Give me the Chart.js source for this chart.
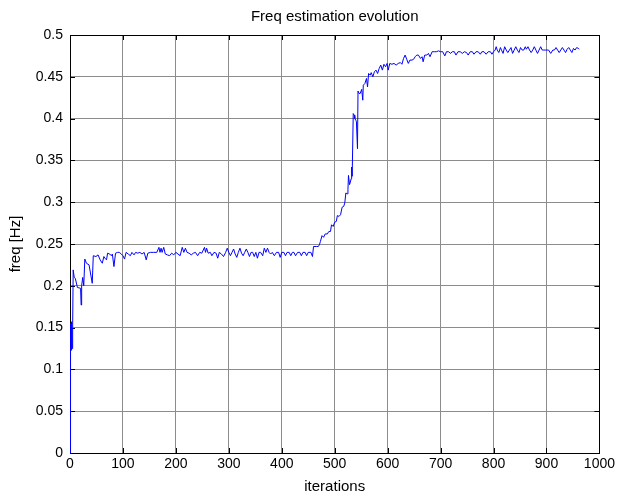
<!DOCTYPE html>
<html><head><meta charset="utf-8">
<script src="https://cdn.jsdelivr.net/npm/chart.js@4"></script>
<style>html,body{margin:0;padding:0;background:#fff;}</style>
</head><body>
<canvas id="c" width="618" height="497"></canvas>
<script>
const iterations = [0,1,2,3,4,5,6,8,10,14,20,21,22,24,26,28,31,36,42,44,49,53,57,61,64,66,69,71,75,78,80,83,86,90,93,97,
100,103,106,110,114,117,121,124,128,132,136,140,144,147,152,158,164,168,170,172,174,177,180,184,188,192,196,
200,204,208,212,215,218,221,225,229,233,237,241,245,249,254,256,258,261,265,268,272,276,279,282,286,290,294,297,
300,303,306,309,312,315,318,321,324,327,330,333,336,339,342,345,348,351,354,357,360,364,367,370,373,376,379,382,386,390,394,397,
400,404,407,410,414,417,420,423,426,430,434,437,440,444,447,450,455,458,460,466,469,471,473,476,479,482,486,489,492,494,497,
500,503,505,508,511,514,517,519,521,524,525,526,528,529,531,532,533,535,537,538,540,541,543,544,546,548,551,553,554,557,560,562,564,567,569,572,575,578,581,584,587,590,593,596,599,
601,604,608,612,616,620,624,627,630,633,636,639,642,646,649,652,655,658,662,665,667,670,674,677,680,684,688,692,696,
700,704,708,711,715,719,722,726,729,733,737,741,745,749,752,756,760,763,767,771,775,778,782,786,790,794,797,
800,803,805,807,810,813,815,818,821,824,827,830,833,836,839,842,845,848,851,854,857,860,862,865,868,871,874,877,880,883,886,889,892,895,898,
901,904,908,912,915,918,921,924,927,930,933,936,939,942,945,948,951,954,957,960,962];
const freq = [0,0.155,0.123,0.157,0.125,0.15,0.219,0.21,0.209,0.198,0.197,0.177,0.2,0.21,0.2,0.232,0.227,0.225,0.203,0.236,0.235,0.237,0.231,0.227,0.235,0.233,0.231,0.239,0.238,0.236,0.238,0.223,0.239,0.24,0.24,0.238,
0.236,0.232,0.24,0.238,0.236,0.24,0.237,0.24,0.239,0.24,0.238,0.24,0.231,0.239,0.24,0.24,0.24,0.246,0.24,0.245,0.24,0.246,0.238,0.237,0.236,0.239,0.237,
0.24,0.238,0.236,0.246,0.24,0.245,0.24,0.239,0.237,0.239,0.24,0.236,0.24,0.239,0.246,0.24,0.245,0.239,0.24,0.236,0.24,0.239,0.233,0.24,0.238,0.235,0.24,0.245,
0.24,0.236,0.24,0.244,0.238,0.234,0.24,0.245,0.239,0.236,0.24,0.244,0.24,0.235,0.24,0.24,0.235,0.24,0.233,0.24,0.24,0.236,0.245,0.24,0.245,0.24,0.238,0.24,0.236,0.24,0.24,0.234,
0.24,0.24,0.236,0.24,0.24,0.236,0.24,0.24,0.236,0.24,0.24,0.236,0.24,0.24,0.236,0.24,0.24,0.235,0.247,0.247,0.247,0.249,0.253,0.26,0.258,0.262,0.262,0.265,0.265,0.273,0.271,
0.276,0.277,0.284,0.283,0.285,0.294,0.295,0.299,0.311,0.31,0.315,0.332,0.321,0.323,0.328,0.342,0.331,0.406,0.404,0.4,0.398,0.396,0.364,0.433,0.43,0.43,0.435,0.422,0.44,0.442,0.448,0.438,0.454,0.452,0.455,0.45,0.456,0.458,0.454,0.46,0.464,0.458,0.465,0.462,0.466,
0.458,0.466,0.465,0.466,0.464,0.466,0.467,0.465,0.472,0.476,0.471,0.466,0.47,0.47,0.471,0.474,0.476,0.476,0.472,0.474,0.468,0.476,0.476,0.478,0.474,0.48,0.48,0.48,0.481,
0.48,0.48,0.475,0.48,0.48,0.478,0.48,0.48,0.476,0.48,0.48,0.478,0.48,0.479,0.476,0.48,0.48,0.477,0.48,0.48,0.477,0.48,0.48,0.477,0.48,0.48,0.477,
0.48,0.482,0.486,0.482,0.479,0.485,0.482,0.478,0.486,0.482,0.479,0.482,0.485,0.478,0.482,0.486,0.482,0.479,0.485,0.482,0.482,0.486,0.483,0.486,0.482,0.479,0.482,0.486,0.482,0.478,0.482,0.486,0.482,0.482,0.482,
0.482,0.482,0.478,0.482,0.482,0.485,0.482,0.479,0.482,0.485,0.482,0.479,0.483,0.485,0.482,0.479,0.484,0.482,0.485,0.484,0.483];
const xTickValues = [0,100,200,300,400,500,600,700,800,900,1000];
const yTickValues = [0,0.05,0.1,0.15,0.2,0.25,0.3,0.35,0.4,0.45,0.5];
const titleText = 'Freq estimation evolution';
const xLabel = 'iterations';
const yLabel = 'freq [Hz]';

const FONT = 'Arial, "Liberation Sans", sans-serif';
const frame = {
  id: 'frame',
  beforeDatasetsDraw(chart) {
    const {ctx, chartArea: a, scales: {x, y}} = chart;
    ctx.save();
    ctx.strokeStyle = '#000';
    ctx.lineWidth = 1;
    ctx.beginPath();
    xTickValues.forEach(v => {
      const px = Math.round(x.getPixelForValue(v)) + 0.5;
      ctx.moveTo(px, a.bottom); ctx.lineTo(px, a.bottom - 5);
      ctx.moveTo(px, a.top); ctx.lineTo(px, a.top + 5);
    });
    yTickValues.forEach(v => {
      const py = Math.round(y.getPixelForValue(v)) + 0.5;
      ctx.moveTo(a.left, py); ctx.lineTo(a.left + 5, py);
      ctx.moveTo(a.right, py); ctx.lineTo(a.right - 5, py);
    });
    ctx.stroke();
    ctx.strokeRect(Math.round(a.left) + 0.5, Math.round(a.top) + 0.5, Math.round(a.width), Math.round(a.height));
    ctx.restore();
  },
  afterDraw(chart) {
    const {ctx, chartArea: a} = chart;
    ctx.save();
    ctx.fillStyle = '#000';
    ctx.font = '15px ' + FONT;
    ctx.textAlign = 'center';
    ctx.textBaseline = 'middle';
    ctx.fillText(titleText, (a.left + a.right) / 2, 17);
    ctx.restore();
  }
};

new Chart(document.getElementById('c'), {
  type: 'line',
  data: {
    datasets: [{
      data: iterations.map((v, i) => ({x: v, y: freq[i]})),
      borderColor: '#0000ff',
      borderWidth: 1,
      pointRadius: 0,
      tension: 0,
      fill: false
    }]
  },
  options: {
    responsive: false,
    animation: false,
    devicePixelRatio: 1,
    layout: {padding: {left: 6, right: 16, top: 35, bottom: 0}},
    plugins: {
      legend: {display: false},
      tooltip: {enabled: false},
      title: {display: false}
    },
    scales: {
      x: {
        type: 'linear', min: 0, max: 1000,
        afterBuildTicks: s => { s.ticks = xTickValues.map(v => ({value: v})); },
        afterFit: s => { s.height = 44; },
        grid: {color: '#8c8c8c', drawTicks: false, lineWidth: 1},
        border: {display: false},
        ticks: {color: '#000', font: {family: FONT, size: 14}, padding: 3, maxRotation: 0, autoSkip: false,
          callback: v => String(v)},
        title: {display: true, text: xLabel, color: '#000', font: {family: FONT, size: 15, lineHeight: 1.2}, padding: {top: 1, bottom: 1}}
      },
      y: {
        type: 'linear', min: 0, max: 0.5,
        afterBuildTicks: s => { s.ticks = yTickValues.map(v => ({value: v})); },
        afterFit: s => { s.width = 64; },
        grid: {color: '#8c8c8c', drawTicks: false, lineWidth: 1},
        border: {display: false},
        ticks: {color: '#000', font: {family: FONT, size: 14}, padding: 7, autoSkip: false,
          callback: v => String(Number(v.toFixed(2)))},
        title: {display: true, text: yLabel, color: '#000', font: {family: FONT, size: 15, lineHeight: 1.2}, padding: {top: 1, bottom: 1}}
      }
    }
  },
  plugins: [frame]
});
</script>
</body></html>
